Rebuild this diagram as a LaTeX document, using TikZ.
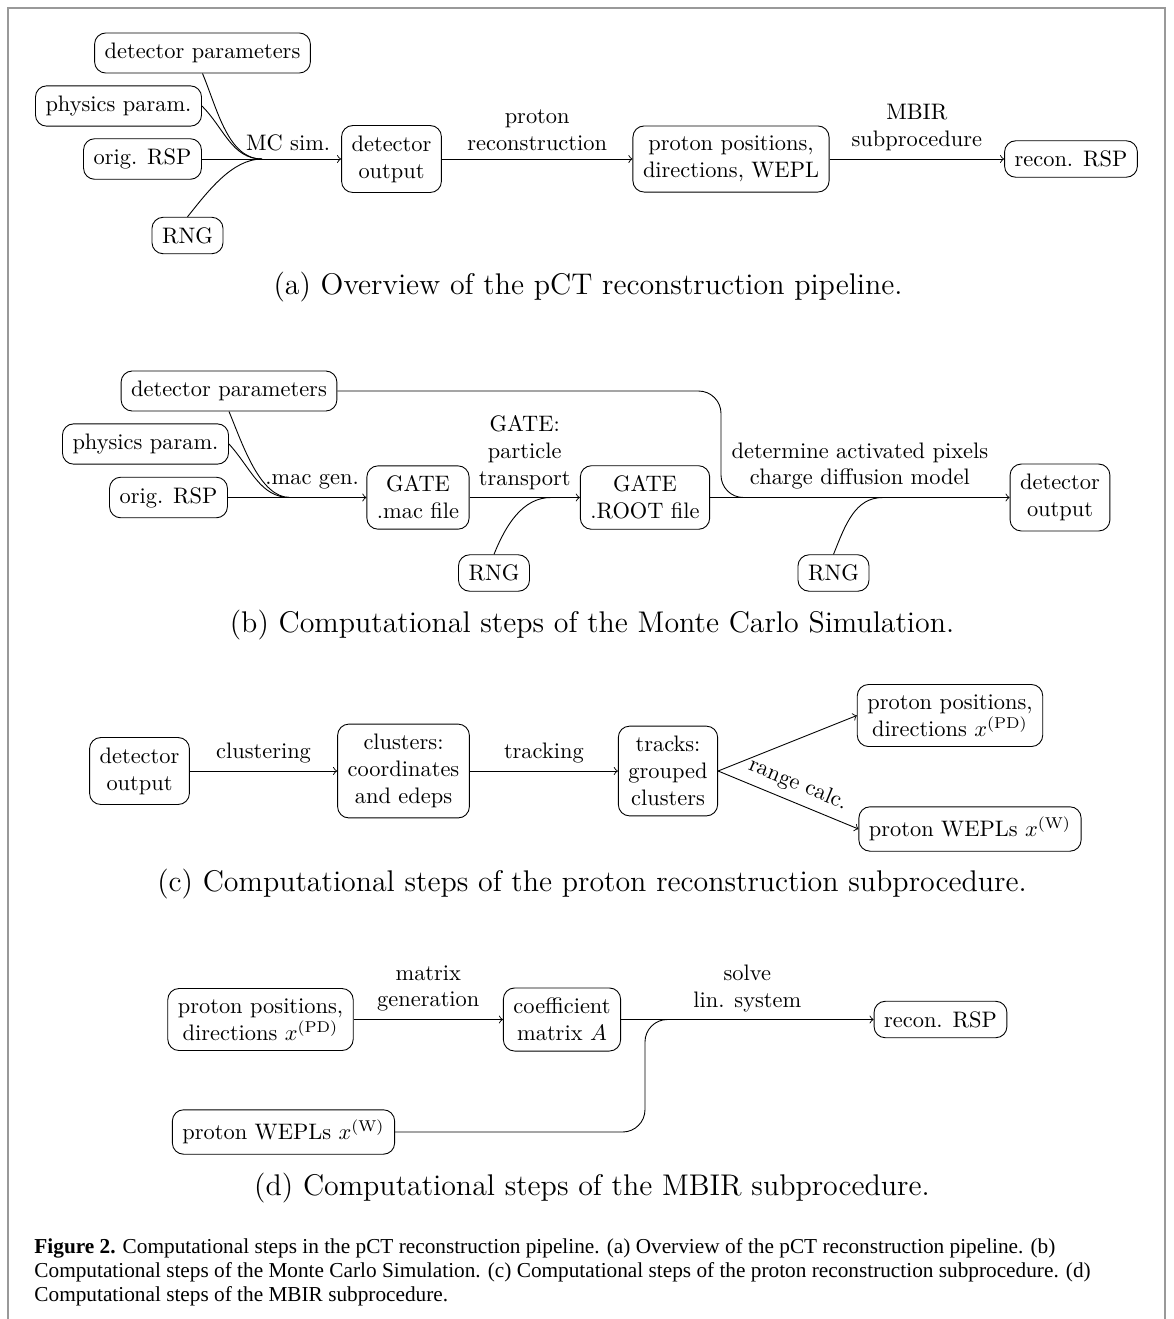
\documentclass[tikz,border=0pt]{standalone}
\usepackage{fontspec}
\newfontfamily\capfont{Liberation Serif}
\usetikzlibrary{positioning}

\begin{document}
\begin{tikzpicture}[x=0.4464pt, y=-0.4464pt, >=to,
        box/.style = {draw, rounded corners=5pt, inner sep=4.5pt, align=center},
        lbl/.style = {above, align=center},
        sub/.style = {font=\fontsize{13.35}{16}\selectfont}]
    \useasboundingbox (0,0) rectangle (1173,1319);
    \draw[gray!80, line width=1pt] (8,1319) -- (8,8) -- (1165,8) -- (1165,1319);

    % (a) overview
    \node[box] (dp1) at (202.5,53) {detector parameters};
    \node[box] (ph1) at (118.5,106) {physics param.};
    \node[box] (rsp1) at (142.5,159) {orig. RSP};
    \node[box] (rng1) at (187.5,235.5) {RNG};
    \node[box] (det1) at (391.5,159) {detector\\output};
    \node[box] (pd1) at (731,159) {proton positions,\\directions, WEPL};
    \node[box] (rec1) at (1071,159) {recon. RSP};
    \coordinate (m1) at (262,159);
    \draw (dp1.south) .. controls +(15,36) and +(-34,0) .. (m1);
    \draw (ph1.east) .. controls +(22,22) and +(-30,0) .. (m1);
    \draw (rsp1) -- (m1);
    \draw (rng1.north) .. controls +(20,-25) and +(-30,0) .. (m1);
    \draw[->] (m1) -- node[above, pos=0.33] {MC sim.} (det1);
    \draw[->] (det1) -- node[lbl] {proton\\reconstruction} (pd1);
    \draw[->] (pd1) -- node[lbl] {MBIR\\subprocedure} (rec1);
    \node[sub] (capa) at (588,287) {(a) Overview of the pCT reconstruction pipeline.};

    % (b) Monte Carlo simulation
    \node[box] (dp2) at (229,391) {detector parameters};
    \node[box] (ph2) at (145.5,444) {physics param.};
    \node[box] (rsp2) at (168.5,497.5) {orig. RSP};
    \node[box] (mac) at (418,497.5) {GATE\\.mac file};
    \node[box] (root) at (645,497.5) {GATE\\.ROOT file};
    \node[box] (det2) at (1060,497.5) {detector\\output};
    \node[box] (rng2) at (494,573) {RNG};
    \node[box] (rng3) at (833.5,573) {RNG};
    \coordinate (m2) at (290,497.5);
    \coordinate (m3) at (551,497.5);
    \coordinate (m4) at (883,497.5);
    \coordinate (m5) at (770,497.5);
    \draw (dp2.south) .. controls +(14,34) and +(-30,0) .. (m2);
    \draw (ph2.east) .. controls +(22,24) and +(-30,0) .. (m2);
    \draw (rsp2) -- (m2);
    \draw[->] (m2) -- node[above, pos=0.29] {.mac gen.} (mac);
    \draw[->] (mac) -- node[lbl] {GATE:\\particle\\transport} (root);
    \draw (rng2.north) .. controls +(12,-30) and +(-28,0) .. (m3);
    \draw[->] (root) -- node[lbl] {determine activated pixels\\charge diffusion model} (det2);
    \draw[rounded corners=10pt] (dp2.east) -- (721,391) -- (721,497.5) -- (m5);
    \draw (rng3.north) .. controls +(12,-30) and +(-28,0) .. (m4);
    \node[sub] (capb) at (592,625) {(b) Computational steps of the Monte Carlo Simulation.};

    % (c) proton reconstruction
    \node[box] (det3) at (139.5,771) {detector\\output};
    \node[box] (clu) at (403.5,771) {clusters:\\coordinates\\and edeps};
    \node[box] (trk) at (668,771) {tracks:\\grouped\\clusters};
    \node[box] (pd3) at (950,715.5) {proton positions,\\directions $x^{(\mathrm{PD})}$};
    \node[box] (wepl3) at (970,829) {proton WEPLs $x^{(\mathrm{W})}$};
    \draw[->] (det3) -- node[lbl] {clustering} (clu);
    \draw[->] (clu) -- node[lbl] {tracking} (trk);
    \draw[->] (trk.east) -- (pd3.west);
    \draw[->] (trk.east) -- node[sloped, above, pos=0.52] {range calc.} (wepl3.west);
    \node[sub] (capc) at (592,884) {(c) Computational steps of the proton reconstruction subprocedure.};

    % (d) MBIR
    \node[box] (pd4) at (260.5,1019.5) {proton positions,\\directions $x^{(\mathrm{PD})}$};
    \node[box] (coef) at (562,1019.5) {coefficient\\matrix $A$};
    \node[box] (rec4) at (940.5,1019.5) {recon. RSP};
    \node[box] (wepl4) at (283.5,1132) {proton WEPLs $x^{(\mathrm{W})}$};
    \coordinate (m6) at (700,1019.5);
    \draw[->] (pd4) -- node[lbl] {matrix\\generation} (coef);
    \draw[->] (coef) -- node[lbl] {solve\\lin. system} (rec4);
    \draw[rounded corners=10pt] (wepl4.east) -- (645,1132) -- (645,1019.5) -- (m6);
    \node[sub] (capd) at (592,1188) {(d) Computational steps of the MBIR subprocedure.};

    % figure caption
    \node[anchor=base west, align=left, inner sep=0pt, font=\capfont\fontsize{9.5}{10.71}\selectfont] (fig) at (34,1301)
        {\textbf{Figure 2.} Computational steps in the pCT reconstruction pipeline. (a) Overview of the pCT reconstruction pipeline. (b)\\
         Computational steps of the Monte Carlo Simulation. (c) Computational steps of the proton reconstruction subprocedure. (d)\\
         Computational steps of the MBIR subprocedure.};
\end{tikzpicture}
\end{document}
